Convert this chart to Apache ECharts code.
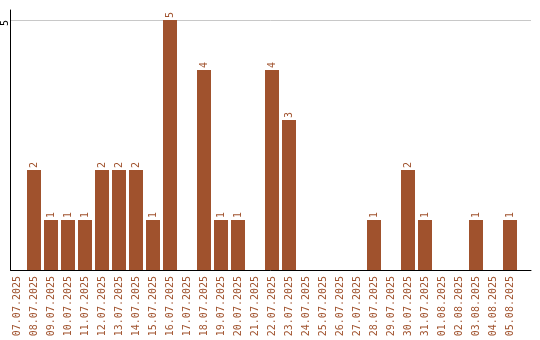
<!DOCTYPE html>
<html>
<head>
<meta charset="utf-8">
<script src="https://cdn.jsdelivr.net/npm/echarts@6/dist/echarts.min.js"></script>
<style>html,body{margin:0;padding:0;background:#fff}#c{width:540px;height:340px}</style>
</head>
<body>
<div id="c"></div>
<script>
const categories = ['07.07.2025','08.07.2025','09.07.2025','10.07.2025','11.07.2025','12.07.2025','13.07.2025','14.07.2025','15.07.2025','16.07.2025','17.07.2025','18.07.2025','19.07.2025','20.07.2025','21.07.2025','22.07.2025','23.07.2025','24.07.2025','25.07.2025','26.07.2025','27.07.2025','28.07.2025','29.07.2025','30.07.2025','31.07.2025','01.08.2025','02.08.2025','03.08.2025','04.08.2025','05.08.2025'];
const values = [0,2,1,1,1,2,2,2,1,5,0,4,1,1,0,4,3,0,0,0,0,1,0,2,1,0,0,1,0,1];
const yTickLabels = [5];

const brown = '#a0522d';
const font = 'DejaVu Sans Mono';
const chart = echarts.init(document.getElementById('c'), null, {renderer: 'canvas'});
chart.setOption({
  animation: false,
  backgroundColor: '#fff',
  grid: [
    {left: 8.5, width: 510, top: 10, bottom: 70},
    {left: 10.5, right: 9, top: 10, bottom: 70}
  ],
  xAxis: [
    {type: 'category', gridIndex: 0, data: categories,
     axisLine: {show: false}, axisTick: {show: false},
     axisLabel: {rotate: 90, color: brown, fontFamily: font, fontSize: 10, margin: 6, interval: 0}},
    {type: 'value', gridIndex: 1, min: 0, max: 1,
     axisLine: {show: true, onZero: false, lineStyle: {color: '#000', width: 1}},
     axisTick: {show: false}, axisLabel: {show: false}, splitLine: {show: false}}
  ],
  yAxis: [
    {type: 'value', gridIndex: 0, min: 0, max: 5.2, show: false},
    {type: 'value', gridIndex: 1, min: 0, max: 5.2, interval: 5,
     axisLine: {show: true, lineStyle: {color: '#000', width: 1}},
     axisTick: {show: false},
     axisLabel: {rotate: 90, align: 'right', verticalAlign: 'middle', color: '#000', fontFamily: font, fontSize: 10, margin: 5,
       formatter: v => yTickLabels.includes(v) ? String(v) : ''},
     splitLine: {show: true, showMinLine: false, showMaxLine: false, lineStyle: {color: '#c8c8c8', width: 1}}}
  ],
  series: [{
    type: 'bar', xAxisIndex: 0, yAxisIndex: 0,
    data: values.map(v => v === 0 ? {value: 0, label: {show: false}} : v),
    barWidth: 14,
    itemStyle: {color: brown},
    label: {show: true, position: 'top', rotate: 90, align: 'left', verticalAlign: 'middle',
      distance: 2, color: brown, fontFamily: font, fontSize: 10}
  }]
});
</script>
</body>
</html>
